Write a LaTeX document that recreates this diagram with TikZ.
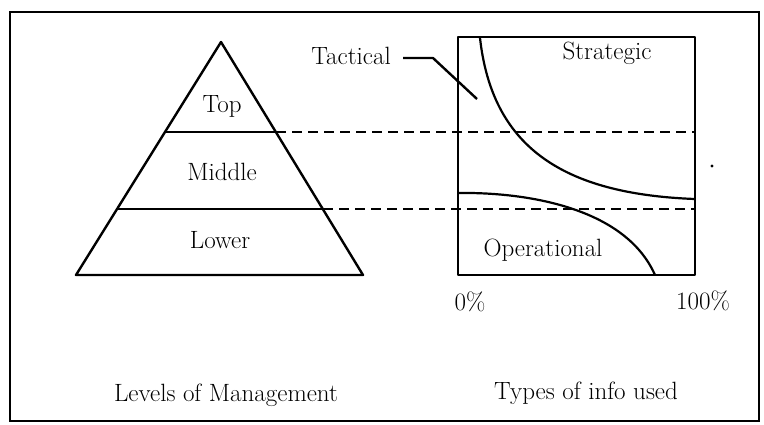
\documentclass[tikz,border=0pt]{standalone}
\usetikzlibrary{calc}
\begin{document}
\begin{tikzpicture}[x=1pt,y=-1pt,
  lbl/.style={font=\fontsize{25}{30}\selectfont, inner sep=0pt},
  solidline/.style={line width=2.4pt, line join=round},
  dashline/.style={line width=2.4pt, dash pattern=on 10pt off 6pt},
  curveline/.style={line width=2.2pt},
]
\useasboundingbox (0,0) rectangle (764,424);
% outer frame
\draw[line width=2.6pt] (10,12) rectangle (759,421);

% pyramid
\coordinate (apex) at (221,42);
\coordinate (bl) at (76,275);
\coordinate (br) at (363,275);
\coordinate (l1) at (165,132);
\coordinate (r1) at (276,132);
\coordinate (l2) at (117,209);
\coordinate (r2) at (323,209);
\draw[solidline] (apex) -- (bl) -- (br) -- cycle;
\draw[solidline] (l1) -- (r1);
\draw[solidline] (l2) -- (r2);
\node[lbl] (top) at (222,106) {Top};
\node[lbl] (middle) at (222,172) {Middle};
\node[lbl] (lower) at (220,240) {Lower};

% chart box
\coordinate (bxtl) at (458,37);
\coordinate (bxbr) at (695,275);
\draw[solidline] (bxtl) rectangle (bxbr);

% dashed guide lines
\coordinate (d1) at (695,132);
\coordinate (d2) at (695,208);
\draw[dashline] (r1) -- (d1);
\draw[dashline] (r2) -- (695,209);

% curves
\coordinate (s0) at (480,38);
\coordinate (s1) at (695,199);
\draw[curveline] (s0) .. controls (492,145) and (560,194) .. (s1);
\coordinate (o0) at (458,193);
\coordinate (o1) at (655,275);
\draw[curveline] (o0) .. controls (525,192) and (625,207) .. (o1);

% labels in chart
\node[lbl] (strategic) at (607,53) {Strategic};
\node[lbl] (operational) at (543,250) {Operational};
\node[lbl, anchor=east] (tactical) at (391,56) {Tactical};
\coordinate (tk) at (433,58);
\coordinate (tend) at (477,99);
\draw[solidline] ($(tactical.east)+(12,2)$) -- (tk) -- (tend);

% axis labels
\node[lbl] (zero) at (470,302) {0\%};
\node[lbl] (hundred) at (703,301) {100\%};

% captions
\node[lbl] (levels) at (226,395) {Levels of Management};
\node[lbl] (types) at (586,393) {Types of info used};

% stray dot
\fill (712,166) circle (1.6pt);
\end{tikzpicture}
\end{document}
